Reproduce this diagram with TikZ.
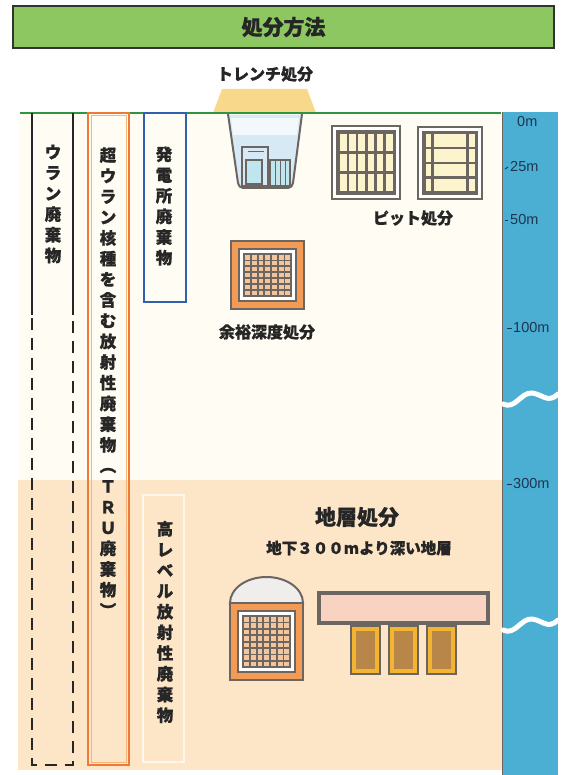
\documentclass[tikz,border=0pt]{standalone}
\usepackage{fontspec}
\setmainfont{Noto Sans CJK JP}[BoldFont={Noto Sans CJK JP Bold}]
\newfontfamily\jpheavy{Noto Sans CJK JP Bold}[FakeBold=0.9]
\newcommand{\jpbold}{\jpheavy\bfseries}
\newfontfamily\labelfont{Liberation Sans}
\definecolor{titlegreen}{HTML}{8CC762}
\definecolor{groundgreen}{HTML}{2E9640}
\definecolor{mound}{HTML}{F8D98C}
\definecolor{upperbg}{HTML}{FFFCF3}
\definecolor{lowerbg}{HTML}{FDE5C7}
\definecolor{scaleblue}{HTML}{4BAFD4}
\definecolor{scaletext}{HTML}{1E3550}
\definecolor{truorange}{HTML}{EF7A35}
\definecolor{trulight}{HTML}{F9B57A}
\definecolor{plantblue}{HTML}{3160B0}
\definecolor{wallgray}{HTML}{6B6661}
\definecolor{cellcream}{HTML}{FBF4CC}
\definecolor{trenchblue}{HTML}{D8E9F6}
\definecolor{drumcyan}{HTML}{BFE5EE}
\definecolor{bandorange}{HTML}{F39A55}
\definecolor{dotorange}{HTML}{F4C49A}
\definecolor{tunnelpink}{HTML}{F9D3C2}
\definecolor{shaftyellow}{HTML}{F2B431}
\definecolor{shaftbrown}{HTML}{B98649}
\definecolor{domegray}{HTML}{EFEEEC}
\definecolor{hlwframe}{HTML}{FFF7EC}
\tikzset{
  vtext/.style={align=center, text=black!85, font={\jpbold\fontsize{16.5}{20.7}\selectfont}, inner sep=0pt},
  caption/.style={text=black!85, font={\jpbold\fontsize{16}{18}\selectfont}, inner sep=0pt},
  depth/.style={text=scaletext, font={\labelfont\fontsize{14.5}{16}\selectfont}, anchor=west, inner sep=0pt},
  tick/.style={scaletext, line width=0.9pt},
  wall/.style={draw=wallgray, line width=2pt},
  wave/.style={white, line width=5pt, line cap=round},
}
\begin{document}
\begin{tikzpicture}[x=1pt,y=-1pt]
\useasboundingbox (0,0) rectangle (565,775);
\fill[white] (0,0) rectangle (565,775);

% title bar
\node[draw=black!80, line width=1.4pt, fill=titlegreen, minimum width=541pt, minimum height=42pt, inner sep=0pt,
      font={\jpbold\fontsize{21}{24}\selectfont}, text=black!85] (title) at (283.5,27) {処分方法};

% ground zones
\fill[upperbg] (18,113) rectangle (502,480);
\fill[lowerbg] (18,480) rectangle (502,770);

% depth scale column
\fill[scaleblue] (502,112) rectangle (558,775);
\draw[wallgray, line width=1pt] (502,112) -- (502,775);
\draw[wave] (503,404) .. controls (515,410) and (521,392) .. (532,393) .. controls (542,394) and (548,404) .. (558,394);
\draw[wave] (503,630) .. controls (515,636) and (521,618) .. (532,619) .. controls (542,620) and (548,630) .. (558,620);
\node[depth] (d0) at (517,122) {0m};
\coordinate (t25) at (508,167); \draw[tick] (505,169) -- (t25);
\node[depth] (d25) at (510,167) {25m};
\coordinate (t50) at (508,220); \draw[tick] (505,220) -- (t50);
\node[depth] (d50) at (510,220) {50m};
\coordinate (t100) at (512,328); \draw[tick] (507,328) -- (t100);
\node[depth] (d100) at (513,328) {100m};
\coordinate (t300) at (512,484); \draw[tick] (507,484) -- (t300);
\node[depth] (d300) at (513,484) {300m};

% trench mound and ground line
\fill[mound] (213,113) -- (222,89) -- (307,89) -- (316,113) -- cycle;
\draw[groundgreen, line width=2pt] (20,113) -- (501,113);
\node[caption] (trenchlabel) at (265,74) {トレンチ処分};

% uranium waste column
\draw[black!85, line width=1.6pt] (32,113) -- (32,315);
\draw[black!85, line width=1.6pt] (73,113) -- (73,315);
\draw[black!85, line width=1.6pt, dash pattern=on 12pt off 8pt] (32,318) -- (32,765) -- (73,765) -- (73,318);
\node[vtext] (uranium) at (53,204) {ウ\\ラ\\ン\\廃\\棄\\物};

% TRU waste column
\draw[truorange, line width=1.4pt] (88,113) rectangle (129,765);
\draw[trulight, line width=0.8pt] (91,115) rectangle (126,762);
\node[vtext] (tru) at (108,382) {超\\ウ\\ラ\\ン\\核\\種\\を\\含\\む\\放\\射\\性\\廃\\棄\\物\\︵\\Ｔ\\Ｒ\\Ｕ\\廃\\棄\\物\\︶};

% power plant waste column
\draw[plantblue, line width=1.4pt] (144,113) rectangle (186,302);
\node[vtext] (plant) at (164,206) {発\\電\\所\\廃\\棄\\物};

% high-level waste column
\draw[hlwframe, line width=2pt] (143,495) rectangle (184,762);
\node[vtext] (hlw) at (165,622) {高\\レ\\ベ\\ル\\放\\射\\性\\廃\\棄\\物};

% trench pit
\fill[trenchblue] (228,115) -- (302,115) -- (293,186) -- (238,186) -- cycle;
\fill[white!70!trenchblue] (231,118) -- (299,118) -- (297,135) -- (233,135) -- cycle;
\draw[wallgray, line width=1.8pt] (242,186) rectangle (268,147);
\draw[wallgray, line width=1.2pt, fill=drumcyan] (246,160) rectangle (262,184);
\draw[wallgray, line width=1pt] (248,152) -- (264,152);
\draw[wallgray, line width=1.5pt, fill=drumcyan] (270,160) rectangle (290,186);
\foreach \x in {275,280,285} \draw[wallgray, line width=1pt] (\x,160) -- (\x,186);
\draw[wallgray, line width=2pt, line join=round] (228,114) -- (238,183) to[out=-80,in=180] (243,188) -- (288,188) to[out=0,in=-100] (293,183) -- (302,114);

% pit disposal, first vault
\draw[wall, fill=white] (332,126) rectangle (400,199);
\draw[wall, fill=wallgray] (337,131) rectangle (395,194);
\foreach \r in {0,1,2} {
  \foreach \c in {0,...,5} {
    \fill[cellcream] (340+\c*9.2,134+\r*19.8) rectangle (346.5+\c*9.2,151+\r*19.8);
  }
}
% pit disposal, second vault
\draw[wall, fill=white] (418,127) rectangle (482,199);
\draw[wall, fill=wallgray] (423,132) rectangle (477,194);
\foreach \r in {0,1,2,3} {
  \fill[cellcream] (425.5,134.5+\r*14.7) rectangle (431,147+\r*14.7);
  \fill[cellcream] (434,134.5+\r*14.7) rectangle (466,147+\r*14.7);
  \fill[cellcream] (469,134.5+\r*14.7) rectangle (474.5,147+\r*14.7);
}
\node[caption] (pitlabel) at (413,218) {ピット処分};

% intermediate-depth vault
\draw[wallgray, line width=1.2pt, fill=bandorange] (231,241) rectangle (304,309);
\draw[wallgray, line width=2pt, fill=white] (239,249) rectangle (296,301);
\fill[wallgray] (243,253) rectangle (292,297);
\foreach \r in {0,...,6} {
  \foreach \c in {0,...,6} {
    \fill[dotorange] (245.2+\c*6.7,255.2+\r*5.9) rectangle (250+\c*6.7,259.6+\r*5.9);
  }
}
\node[caption] (midlabel) at (267,332) {余裕深度処分};

% geological disposal
\node[text=black!85, font={\jpbold\fontsize{21}{24}\selectfont}, inner sep=0pt] (geolabel) at (357,517) {地層処分};
\node[text=black!85, font={\jpbold\fontsize{15.5}{18}\selectfont}, inner sep=0pt] (geosub) at (359,548) {地下３００mより深い地層};

% vault with arched roof
\draw[wallgray, line width=2pt, fill=domegray] (230,603) arc[start angle=180, end angle=360, x radius=36.5, y radius=26] -- cycle;
\draw[wallgray, line width=2pt, fill=bandorange] (230,603) rectangle (303,680);
\draw[wallgray, line width=2pt, fill=white] (238,611) rectangle (295,672);
\fill[wallgray] (242,615) rectangle (291,668);
\foreach \r in {0,...,7} {
  \foreach \c in {0,...,6} {
    \fill[dotorange] (244.2+\c*6.7,617+\r*6.4) rectangle (249+\c*6.7,621.6+\r*6.4);
  }
}

% drift tunnel and vertical emplacement holes
\draw[wallgray, line width=3.5pt, fill=tunnelpink] (319,593) rectangle (488,623);
\foreach \x in {351,389,427} {
  \draw[wallgray, line width=2.5pt, fill=shaftyellow] (\x,626) rectangle (\x+29,674);
  \fill[shaftbrown] (\x+5,631) rectangle (\x+24,669);
}
\end{tikzpicture}
\end{document}
